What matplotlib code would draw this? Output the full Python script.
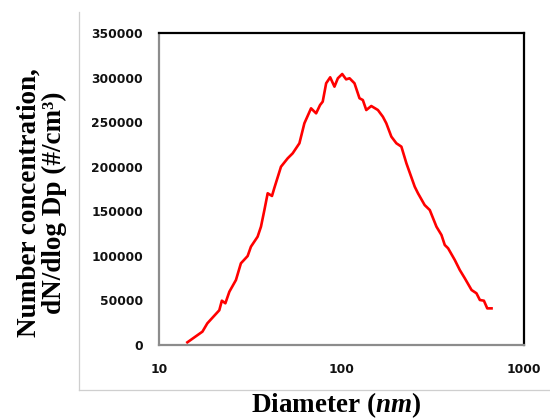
import matplotlib
matplotlib.use("Agg")
import matplotlib.pyplot as plt
from matplotlib.lines import Line2D

diameter_nm = [14.3, 17.3, 18.4, 21.4, 22.1, 23.1, 24.3, 26.4, 28.1, 30.6, 31.9, 34.7,
               36.2, 37.8, 39.4, 41.6, 42.8, 46.6, 50.7, 54.0, 58.8, 62.6, 68.1, 72.6,
               76.3, 78.9, 82.4, 86.7, 91.5, 95.5, 100.9, 106.0, 110.7, 117.8, 125.5,
               130.9, 136.7, 145.6, 158.3, 168.5, 176.0, 187.6, 199.8, 212.9, 226.8,
               251.9, 262.5, 285.5, 304.6, 331.4, 353.0, 368.0, 383.8, 417.5, 444.9,
               474.0, 516.0, 549.0, 573.0, 603.0, 629.0, 664.0]
concentration = [3000, 15000, 24300, 39000, 49700, 46800, 59800, 72900, 91600, 99800,
                 110300, 121500, 132700, 151400, 170200, 167200, 175800, 200000, 209400,
                 215000, 226300, 248700, 265500, 259900, 269200, 273000, 293600, 300300,
                 289800, 299200, 304000, 298000, 299200, 293600, 276800, 274800, 263600,
                 268100, 263600, 256100, 248700, 233700, 226300, 222500, 203800, 177600,
                 170200, 157000, 151400, 132700, 123400, 112200, 108500, 95400, 84100,
                 74800, 61700, 58000, 50500, 49700, 41100, 41100]
x_ticks = [10, 100, 1000]
x_tick_labels = ["10", "100", "1000"]
y_ticks = [0, 50000, 100000, 150000, 200000, 250000, 300000, 350000]
y_tick_labels = [str(v) for v in y_ticks]

plt.rcParams['mathtext.fontset'] = 'custom'
plt.rcParams['mathtext.rm'] = 'Liberation Serif:bold'
plt.rcParams['mathtext.it'] = 'Liberation Serif:italic:bold'
plt.rcParams['mathtext.bf'] = 'Liberation Serif:bold'

fig = plt.figure(figsize=(5.5, 4.19), dpi=100)
ax = fig.add_axes([159/550, 1-345/419, (524-159)/550, (345-33)/419])

ax.plot(diameter_nm, concentration, color='#ff0000', lw=1.9, solid_joinstyle='round')
ax.set_xscale('log')
ax.set_xlim(10, 1000)
ax.set_ylim(0, 350000)
ax.set_xticks(x_ticks)
ax.set_xticklabels(x_tick_labels)
ax.set_yticks(y_ticks)
ax.set_yticklabels(y_tick_labels)
ax.minorticks_off()
ax.tick_params(axis='both', length=0, labelsize=8.8)
ax.tick_params(axis='y', pad=11.5)
ax.tick_params(axis='x', pad=13)
for lab in ax.get_xticklabels() + ax.get_yticklabels():
    lab.set_fontweight('bold')
    lab.set_family('DejaVu Sans')
    lab.set_color('#111111')

for side in ['top', 'right']:
    ax.spines[side].set_color('black')
    ax.spines[side].set_linewidth(1.6)
for side in ['left', 'bottom']:
    ax.spines[side].set_color('#8c8c8c')
    ax.spines[side].set_linewidth(1.6)

fig.text(336/550, 1-405/419, 'Diameter ($nm$)', ha='center', va='center',
         family='Liberation Serif', weight='bold', fontsize=19.5)
fig.text(42/550, 1-203/419, 'Number concentration,\ndN/dlog Dp (#/cm\u00b3)',
         ha='center', va='center', rotation=90, family='Liberation Serif',
         weight='bold', fontsize=19.5, linespacing=1.0, multialignment='center')

fig.add_artist(Line2D([79/550, 79/550], [1-12/419, 1-390/419], color='#cfcfcf', lw=0.9))
fig.add_artist(Line2D([79/550, 1.0], [1-390/419, 1-390/419], color='#cfcfcf', lw=0.9))

fig.savefig('out.png', dpi=100)
